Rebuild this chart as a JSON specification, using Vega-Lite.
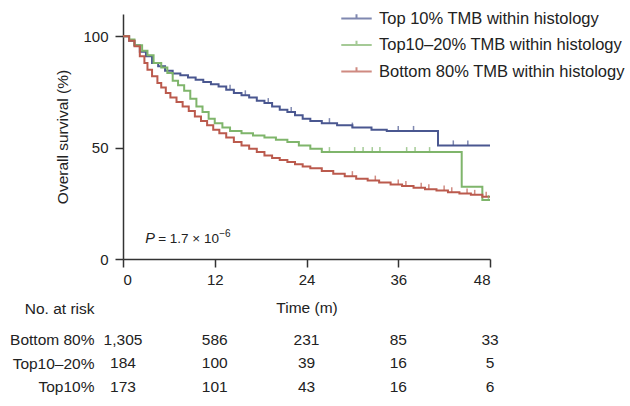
{
  "$schema": "https://vega.github.io/schema/vega-lite/v6.json",
  "padding": {"left": 9, "top": 10, "right": 0, "bottom": 5},
  "background": "white",
  "config": {
    "font": "Liberation Sans",
    "view": {"stroke": null},
    "axis": {"grid": false, "domainColor": "#333", "domainWidth": 1.5, "tickColor": "#333", "tickWidth": 1.5, "tickSize": 8, "labelFont": "Liberation Sans", "labelFontSize": 15, "labelColor": "#222", "titleFont": "Liberation Sans", "titleFontSize": 15.5, "titleFontWeight": "normal", "titleColor": "#222"}
  },
  "datasets": {
    "km": [
      {"group": "Top 10% TMB within histology", "t": 0, "s": 100},
      {"group": "Top 10% TMB within histology", "t": 0.8, "s": 98},
      {"group": "Top 10% TMB within histology", "t": 1.5, "s": 96},
      {"group": "Top 10% TMB within histology", "t": 2.2, "s": 93},
      {"group": "Top 10% TMB within histology", "t": 3.0, "s": 91},
      {"group": "Top 10% TMB within histology", "t": 3.8, "s": 88},
      {"group": "Top 10% TMB within histology", "t": 4.6, "s": 86.5},
      {"group": "Top 10% TMB within histology", "t": 5.5, "s": 84.5},
      {"group": "Top 10% TMB within histology", "t": 6.5, "s": 83.3},
      {"group": "Top 10% TMB within histology", "t": 7.5, "s": 82.5},
      {"group": "Top 10% TMB within histology", "t": 8.5, "s": 81.5},
      {"group": "Top 10% TMB within histology", "t": 9.5, "s": 80.5},
      {"group": "Top 10% TMB within histology", "t": 10.5, "s": 79.5},
      {"group": "Top 10% TMB within histology", "t": 11.5, "s": 78.5},
      {"group": "Top 10% TMB within histology", "t": 12.5, "s": 77.5},
      {"group": "Top 10% TMB within histology", "t": 13.5, "s": 76},
      {"group": "Top 10% TMB within histology", "t": 14.5, "s": 74.5},
      {"group": "Top 10% TMB within histology", "t": 15.5, "s": 73.5},
      {"group": "Top 10% TMB within histology", "t": 16.5, "s": 72.5},
      {"group": "Top 10% TMB within histology", "t": 17.5, "s": 71},
      {"group": "Top 10% TMB within histology", "t": 18.5, "s": 70},
      {"group": "Top 10% TMB within histology", "t": 19.5, "s": 68.5},
      {"group": "Top 10% TMB within histology", "t": 20.5, "s": 67},
      {"group": "Top 10% TMB within histology", "t": 21.5, "s": 66},
      {"group": "Top 10% TMB within histology", "t": 22.5, "s": 64.5},
      {"group": "Top 10% TMB within histology", "t": 23.5, "s": 63},
      {"group": "Top 10% TMB within histology", "t": 24.5, "s": 62},
      {"group": "Top 10% TMB within histology", "t": 26, "s": 61},
      {"group": "Top 10% TMB within histology", "t": 28, "s": 60},
      {"group": "Top 10% TMB within histology", "t": 30, "s": 59},
      {"group": "Top 10% TMB within histology", "t": 32.5, "s": 58},
      {"group": "Top 10% TMB within histology", "t": 34.5, "s": 57.5},
      {"group": "Top 10% TMB within histology", "t": 41.2, "s": 51},
      {"group": "Top 10% TMB within histology", "t": 48, "s": 51},
      {"group": "Top10–20% TMB within histology", "t": 0, "s": 100},
      {"group": "Top10–20% TMB within histology", "t": 0.8, "s": 98.5},
      {"group": "Top10–20% TMB within histology", "t": 1.5, "s": 96},
      {"group": "Top10–20% TMB within histology", "t": 2.5, "s": 93.5},
      {"group": "Top10–20% TMB within histology", "t": 3.2, "s": 91.5},
      {"group": "Top10–20% TMB within histology", "t": 4.0, "s": 88},
      {"group": "Top10–20% TMB within histology", "t": 5.0, "s": 86},
      {"group": "Top10–20% TMB within histology", "t": 5.8, "s": 83.5},
      {"group": "Top10–20% TMB within histology", "t": 6.5, "s": 80},
      {"group": "Top10–20% TMB within histology", "t": 7.2, "s": 78},
      {"group": "Top10–20% TMB within histology", "t": 8.0, "s": 75.5},
      {"group": "Top10–20% TMB within histology", "t": 8.8, "s": 72},
      {"group": "Top10–20% TMB within histology", "t": 9.6, "s": 68.5},
      {"group": "Top10–20% TMB within histology", "t": 10.4, "s": 66},
      {"group": "Top10–20% TMB within histology", "t": 11.2, "s": 63},
      {"group": "Top10–20% TMB within histology", "t": 12, "s": 61},
      {"group": "Top10–20% TMB within histology", "t": 13, "s": 59},
      {"group": "Top10–20% TMB within histology", "t": 14, "s": 57.5},
      {"group": "Top10–20% TMB within histology", "t": 15.5, "s": 56.5},
      {"group": "Top10–20% TMB within histology", "t": 17, "s": 55.5},
      {"group": "Top10–20% TMB within histology", "t": 18.5, "s": 54.5},
      {"group": "Top10–20% TMB within histology", "t": 20, "s": 53.5},
      {"group": "Top10–20% TMB within histology", "t": 21.5, "s": 52.5},
      {"group": "Top10–20% TMB within histology", "t": 23, "s": 51},
      {"group": "Top10–20% TMB within histology", "t": 24.5, "s": 49.5},
      {"group": "Top10–20% TMB within histology", "t": 26, "s": 48},
      {"group": "Top10–20% TMB within histology", "t": 44.3, "s": 32.4},
      {"group": "Top10–20% TMB within histology", "t": 47, "s": 26.5},
      {"group": "Top10–20% TMB within histology", "t": 48, "s": 26.5},
      {"group": "Bottom 80% TMB within histology", "t": 0, "s": 100},
      {"group": "Bottom 80% TMB within histology", "t": 0.8, "s": 98},
      {"group": "Bottom 80% TMB within histology", "t": 1.5, "s": 95.5},
      {"group": "Bottom 80% TMB within histology", "t": 2.2, "s": 91},
      {"group": "Bottom 80% TMB within histology", "t": 2.8, "s": 88},
      {"group": "Bottom 80% TMB within histology", "t": 3.2, "s": 85},
      {"group": "Bottom 80% TMB within histology", "t": 3.8, "s": 82},
      {"group": "Bottom 80% TMB within histology", "t": 4.5, "s": 79},
      {"group": "Bottom 80% TMB within histology", "t": 5.0, "s": 77},
      {"group": "Bottom 80% TMB within histology", "t": 5.6, "s": 74.5},
      {"group": "Bottom 80% TMB within histology", "t": 6.2, "s": 72.5},
      {"group": "Bottom 80% TMB within histology", "t": 7.0, "s": 70.5},
      {"group": "Bottom 80% TMB within histology", "t": 7.8, "s": 68.5},
      {"group": "Bottom 80% TMB within histology", "t": 8.6, "s": 66.5},
      {"group": "Bottom 80% TMB within histology", "t": 9.4, "s": 64},
      {"group": "Bottom 80% TMB within histology", "t": 10.2, "s": 62},
      {"group": "Bottom 80% TMB within histology", "t": 11, "s": 60},
      {"group": "Bottom 80% TMB within histology", "t": 11.8, "s": 58},
      {"group": "Bottom 80% TMB within histology", "t": 12.6, "s": 56.5},
      {"group": "Bottom 80% TMB within histology", "t": 13.5, "s": 54.5},
      {"group": "Bottom 80% TMB within histology", "t": 14.5, "s": 52.5},
      {"group": "Bottom 80% TMB within histology", "t": 15.5, "s": 51},
      {"group": "Bottom 80% TMB within histology", "t": 16.5, "s": 49.5},
      {"group": "Bottom 80% TMB within histology", "t": 17.5, "s": 48},
      {"group": "Bottom 80% TMB within histology", "t": 18.5, "s": 46.5},
      {"group": "Bottom 80% TMB within histology", "t": 19.5, "s": 45.3},
      {"group": "Bottom 80% TMB within histology", "t": 20.5, "s": 44.4},
      {"group": "Bottom 80% TMB within histology", "t": 21.5, "s": 43.5},
      {"group": "Bottom 80% TMB within histology", "t": 22.5, "s": 42.5},
      {"group": "Bottom 80% TMB within histology", "t": 23.5, "s": 41.5},
      {"group": "Bottom 80% TMB within histology", "t": 24.5, "s": 40.8},
      {"group": "Bottom 80% TMB within histology", "t": 26, "s": 39.5},
      {"group": "Bottom 80% TMB within histology", "t": 27.5, "s": 38.3},
      {"group": "Bottom 80% TMB within histology", "t": 29, "s": 37.2},
      {"group": "Bottom 80% TMB within histology", "t": 30.5, "s": 36},
      {"group": "Bottom 80% TMB within histology", "t": 32, "s": 35.2},
      {"group": "Bottom 80% TMB within histology", "t": 33.5, "s": 34.3},
      {"group": "Bottom 80% TMB within histology", "t": 35, "s": 33.5},
      {"group": "Bottom 80% TMB within histology", "t": 36.5, "s": 32.8},
      {"group": "Bottom 80% TMB within histology", "t": 38, "s": 32},
      {"group": "Bottom 80% TMB within histology", "t": 39.5, "s": 31.3},
      {"group": "Bottom 80% TMB within histology", "t": 41, "s": 30.7},
      {"group": "Bottom 80% TMB within histology", "t": 42.5, "s": 30},
      {"group": "Bottom 80% TMB within histology", "t": 44, "s": 29.4},
      {"group": "Bottom 80% TMB within histology", "t": 45.5, "s": 28.8},
      {"group": "Bottom 80% TMB within histology", "t": 47, "s": 28},
      {"group": "Bottom 80% TMB within histology", "t": 48, "s": 28}
    ],
    "censor": [
      {"group": "Top 10% TMB within histology", "t": 14, "s": 76},
      {"group": "Top 10% TMB within histology", "t": 16, "s": 73.5},
      {"group": "Top 10% TMB within histology", "t": 19, "s": 70},
      {"group": "Top 10% TMB within histology", "t": 22, "s": 66},
      {"group": "Top 10% TMB within histology", "t": 27, "s": 61},
      {"group": "Top 10% TMB within histology", "t": 30, "s": 59},
      {"group": "Top 10% TMB within histology", "t": 36, "s": 57.5},
      {"group": "Top 10% TMB within histology", "t": 38, "s": 57.5},
      {"group": "Top 10% TMB within histology", "t": 43.2, "s": 51},
      {"group": "Top 10% TMB within histology", "t": 45.1, "s": 51},
      {"group": "Top10–20% TMB within histology", "t": 27, "s": 48},
      {"group": "Top10–20% TMB within histology", "t": 30.3, "s": 48},
      {"group": "Top10–20% TMB within histology", "t": 31.4, "s": 48},
      {"group": "Top10–20% TMB within histology", "t": 32.6, "s": 48},
      {"group": "Top10–20% TMB within histology", "t": 33.6, "s": 48},
      {"group": "Top10–20% TMB within histology", "t": 37.1, "s": 48},
      {"group": "Top10–20% TMB within histology", "t": 38.2, "s": 48},
      {"group": "Top10–20% TMB within histology", "t": 40.1, "s": 48},
      {"group": "Top10–20% TMB within histology", "t": 47.8, "s": 26.5},
      {"group": "Bottom 80% TMB within histology", "t": 30, "s": 37.2},
      {"group": "Bottom 80% TMB within histology", "t": 33, "s": 35.2},
      {"group": "Bottom 80% TMB within histology", "t": 36, "s": 33.5},
      {"group": "Bottom 80% TMB within histology", "t": 37, "s": 32.8},
      {"group": "Bottom 80% TMB within histology", "t": 39, "s": 32},
      {"group": "Bottom 80% TMB within histology", "t": 40, "s": 31.3},
      {"group": "Bottom 80% TMB within histology", "t": 42, "s": 30.7},
      {"group": "Bottom 80% TMB within histology", "t": 43, "s": 30},
      {"group": "Bottom 80% TMB within histology", "t": 45, "s": 29.4},
      {"group": "Bottom 80% TMB within histology", "t": 46, "s": 28.8},
      {"group": "Bottom 80% TMB within histology", "t": 47.5, "s": 28}
    ],
    "risk": [
      {"row": "Bottom 80%", "t": 0, "n": "1,305"},
      {"row": "Bottom 80%", "t": 12, "n": "586"},
      {"row": "Bottom 80%", "t": 24, "n": "231"},
      {"row": "Bottom 80%", "t": 36, "n": "85"},
      {"row": "Bottom 80%", "t": 48, "n": "33"},
      {"row": "Top10–20%", "t": 0, "n": "184"},
      {"row": "Top10–20%", "t": 12, "n": "100"},
      {"row": "Top10–20%", "t": 24, "n": "39"},
      {"row": "Top10–20%", "t": 36, "n": "16"},
      {"row": "Top10–20%", "t": 48, "n": "5"},
      {"row": "Top10%", "t": 0, "n": "173"},
      {"row": "Top10%", "t": 12, "n": "101"},
      {"row": "Top10%", "t": 24, "n": "43"},
      {"row": "Top10%", "t": 36, "n": "16"},
      {"row": "Top10%", "t": 48, "n": "6"}
    ],
    "pval": [
      {"t": 2.9, "s": 7.2}
    ]
  },
  "vconcat": [
    {
      "width": 367,
      "height": 245,
      "layer": [
        {
          "data": {"name": "km"},
          "mark": {"type": "line", "interpolate": "step-after", "strokeWidth": 2},
          "encoding": {
            "x": {"field": "t", "type": "quantitative", "scale": {"domain": [0, 48], "nice": false},
                  "axis": {"values": [0, 12, 24, 36, 48], "title": "Time (m)", "labelPadding": 5, "titlePadding": 13}},
            "y": {"field": "s", "type": "quantitative", "scale": {"domain": [0, 110], "nice": false},
                  "axis": {"values": [0, 50, 100], "title": "Overall survival (%)", "labelPadding": 7, "titlePadding": 12}},
            "color": {"field": "group", "type": "nominal",
                      "scale": {"domain": ["Top 10% TMB within histology", "Top10–20% TMB within histology", "Bottom 80% TMB within histology"],
                                "range": ["#4a5790", "#7fb56b", "#bb5a4d"]},
                      "legend": {"title": null, "orient": "none", "legendX": 225, "legendY": -4, "direction": "vertical",
                                 "symbolType": "M-2.1,0H2.1M0,0V-0.6", "symbolSize": 210, "symbolStrokeWidth": 2,
                                 "labelFontSize": 16.5, "labelColor": "#222", "labelFont": "Liberation Sans", "labelOffset": 14, "labelLimit": 0, "rowPadding": 9.5}}
          }
        },
        {
          "data": {"name": "censor"},
          "mark": {"type": "tick", "orient": "vertical", "size": 5, "thickness": 1.5, "yOffset": -2.5},
          "encoding": {
            "x": {"field": "t", "type": "quantitative"},
            "y": {"field": "s", "type": "quantitative"},
            "color": {"field": "group", "type": "nominal"}
          }
        },
        {
          "data": {"name": "pval"},
          "mark": {"type": "text", "text": "P", "fontStyle": "italic", "fontSize": 14.5, "align": "left", "baseline": "alphabetic", "color": "#222"},
          "encoding": {"x": {"field": "t", "type": "quantitative"}, "y": {"field": "s", "type": "quantitative"}}
        },
        {
          "data": {"name": "pval"},
          "mark": {"type": "text", "text": "= 1.7 × 10", "fontSize": 13.5, "align": "left", "baseline": "alphabetic", "color": "#222", "dx": 13},
          "encoding": {"x": {"field": "t", "type": "quantitative"}, "y": {"field": "s", "type": "quantitative"}}
        },
        {
          "data": {"name": "pval"},
          "mark": {"type": "text", "text": "−6", "fontSize": 10, "align": "left", "baseline": "alphabetic", "color": "#222", "dx": 74, "dy": -6},
          "encoding": {"x": {"field": "t", "type": "quantitative"}, "y": {"field": "s", "type": "quantitative"}}
        }
      ]
    },
    {
      "width": 367,
      "height": {"step": 23.5},
      "data": {"name": "risk"},
      "mark": {"type": "text", "fontSize": 15.5, "color": "#222", "baseline": "middle"},
      "encoding": {
        "x": {"field": "t", "type": "quantitative", "scale": {"domain": [0, 48], "nice": false}, "axis": null},
        "y": {"field": "row", "type": "nominal", "sort": ["Bottom 80%", "Top10–20%", "Top10%"],
              "axis": {"title": "No. at risk", "domain": false, "ticks": false, "labelPadding": 29, "labelFontSize": 15.5,
                       "titleAngle": 0, "titleAlign": "right", "titleBaseline": "middle", "titleX": -29, "titleY": -20}},
        "text": {"field": "n"}
      }
    }
  ],
  "spacing": 69,
  "bounds": "flush"
}
